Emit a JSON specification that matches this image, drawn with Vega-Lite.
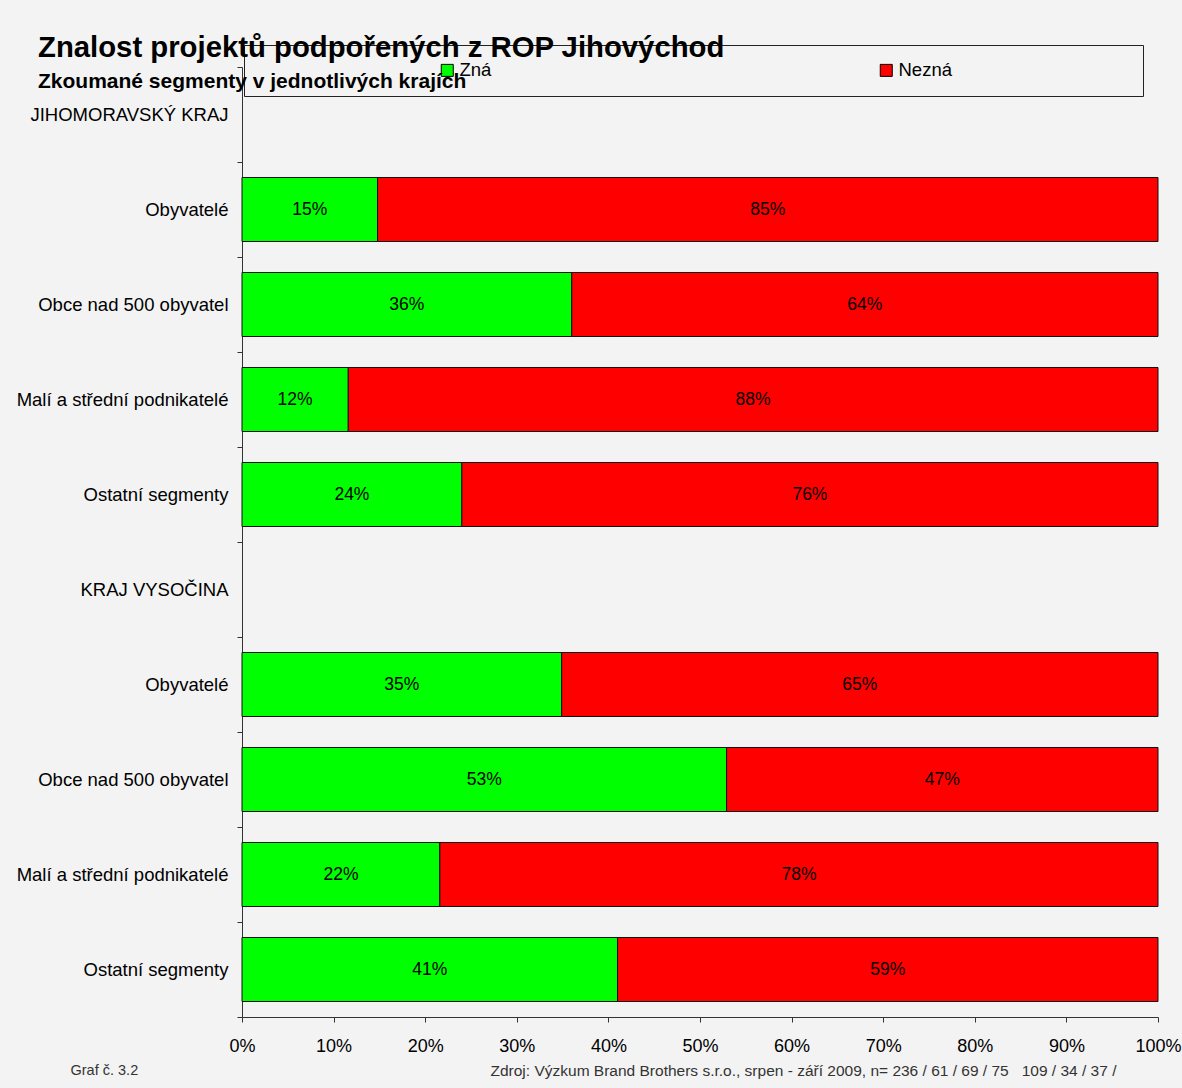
{
  "$schema": "https://vega.github.io/schema/vega-lite/v6.json",
  "width": 916,
  "height": 950,
  "autosize": {"type": "none"},
  "padding": {"left": 242, "top": 67, "right": 24, "bottom": 71},
  "background": "#f3f3f3",
  "view": {"stroke": null},
  "config": {"font": "Liberation Sans"},
  "title": {
    "text": "Znalost projektů podpořených z ROP Jihovýchod",
    "subtitle": "Zkoumané segmenty v jednotlivých krajích",
    "anchor": "start",
    "frame": "group",
    "dx": -204,
    "dy": 51,
    "fontSize": 29.3,
    "fontWeight": "bold",
    "color": "black",
    "subtitleFontSize": 21,
    "subtitleFontWeight": "bold",
    "subtitleColor": "black",
    "subtitlePadding": 7,
    "zindex": 5
  },
  "data": {
    "values": [
      {"row": "2|Obyvatelé", "k": "Zná", "o": 1, "v": 0.148},
      {"row": "2|Obyvatelé", "k": "Nezná", "o": 2, "v": 0.852},
      {"row": "3|Obce nad 500 obyvatel", "k": "Zná", "o": 1, "v": 0.36},
      {"row": "3|Obce nad 500 obyvatel", "k": "Nezná", "o": 2, "v": 0.64},
      {"row": "4|Malí a střední podnikatelé", "k": "Zná", "o": 1, "v": 0.116},
      {"row": "4|Malí a střední podnikatelé", "k": "Nezná", "o": 2, "v": 0.884},
      {"row": "5|Ostatní segmenty", "k": "Zná", "o": 1, "v": 0.24},
      {"row": "5|Ostatní segmenty", "k": "Nezná", "o": 2, "v": 0.76},
      {"row": "7|Obyvatelé", "k": "Zná", "o": 1, "v": 0.349},
      {"row": "7|Obyvatelé", "k": "Nezná", "o": 2, "v": 0.651},
      {"row": "8|Obce nad 500 obyvatel", "k": "Zná", "o": 1, "v": 0.529},
      {"row": "8|Obce nad 500 obyvatel", "k": "Nezná", "o": 2, "v": 0.471},
      {"row": "9|Malí a střední podnikatelé", "k": "Zná", "o": 1, "v": 0.216},
      {"row": "9|Malí a střední podnikatelé", "k": "Nezná", "o": 2, "v": 0.784},
      {"row": "10|Ostatní segmenty", "k": "Zná", "o": 1, "v": 0.41},
      {"row": "10|Ostatní segmenty", "k": "Nezná", "o": 2, "v": 0.59}
    ]
  },
  "transform": [
    {"stack": "v", "groupby": ["row"], "sort": [{"field": "o", "order": "ascending"}], "as": ["v0", "v1"]},
    {"calculate": "(datum.v0 + datum.v1) / 2", "as": "mid"}
  ],
  "encoding": {
    "y": {
      "field": "row",
      "type": "nominal",
      "scale": {
        "domain": ["1|JIHOMORAVSKÝ KRAJ", "2|Obyvatelé", "3|Obce nad 500 obyvatel", "4|Malí a střední podnikatelé", "5|Ostatní segmenty", "6|KRAJ VYSOČINA", "7|Obyvatelé", "8|Obce nad 500 obyvatel", "9|Malí a střední podnikatelé", "10|Ostatní segmenty"],
        "paddingInner": 0,
        "paddingOuter": 0
      },
      "axis": {
        "labelExpr": "split(datum.label, '|')[1]",
        "tickBand": "extent",
        "tickSize": 5,
        "labelPadding": 9,
        "labelFontSize": 18.5,
        "labelColor": "black",
        "labelLimit": 400,
        "domainColor": "#333",
        "tickColor": "#333",
        "title": "Graf č. 3.2",
        "titleAngle": 0,
        "titleX": -172,
        "titleY": 1003,
        "titleAlign": "left",
        "titleBaseline": "middle",
        "titleFontWeight": "normal",
        "titleFontSize": 14.5,
        "titleColor": "#333"
      }
    }
  },
  "layer": [
    {
      "mark": {"type": "bar", "stroke": "#111", "strokeWidth": 1, "height": {"band": 0.674}},
      "encoding": {
        "x": {
          "field": "v0",
          "type": "quantitative",
          "scale": {"domain": [0, 1], "nice": false},
          "axis": {
            "format": ".0%",
            "values": [0, 0.1, 0.2, 0.3, 0.4, 0.5, 0.6, 0.7, 0.8, 0.9, 1],
            "grid": false,
            "tickSize": 5,
            "labelPadding": 15,
            "labelFontSize": 18,
            "labelFlush": false,
            "labelOverlap": false,
            "labelColor": "black",
            "domainColor": "#333",
            "tickColor": "#333",
            "title": ["Zdroj: Výzkum Brand Brothers s.r.o., srpen - září 2009, n= 236 / 61 / 69 / 75\u00a0\u00a0\u00a0109 / 34 / 37 /", "\u200b\u00a0\u00a0\u00a0\u00a0\u00a0\u00a0\u00a0\u00a0\u00a0\u00a0\u00a0\u00a0\u00a0\u00a0\u00a0\u00a0\u00a0\u00a0\u00a0\u00a0\u00a0\u00a069"],
            "titleX": 248,
            "titleY": 53,
            "titleAlign": "left",
            "titleBaseline": "middle",
            "titleFontWeight": "normal",
            "titleFontSize": 15.5,
            "titleColor": "#333",
            "titleLineHeight": 23
          }
        },
        "x2": {"field": "v1"},
        "color": {
          "field": "k",
          "type": "nominal",
          "scale": {"domain": ["Zná", "Nezná"], "range": ["#00ff00", "#ff0000"]},
          "legend": {
            "orient": "none",
            "legendX": 2,
            "legendY": -22,
            "direction": "horizontal",
            "title": "\u200b",
            "titleOrient": "left",
            "titlePadding": 178,
            "padding": 16,
            "strokeColor": "#222",
            "fillColor": "#f3f3f3",
            "columnPadding": 385,
            "labelFontSize": 18.5,
            "labelColor": "black",
            "labelOffset": 3,
            "labelLimit": 600,
            "symbolType": "square",
            "symbolSize": 144,
            "symbolStrokeColor": "black",
            "symbolStrokeWidth": 1,
            "labelExpr": "datum.label == 'Nezná' ? 'Nezná\u00a0\u00a0\u00a0\u00a0\u00a0\u00a0\u00a0\u00a0\u00a0\u00a0\u00a0\u00a0\u00a0\u00a0\u00a0\u00a0\u00a0\u00a0\u00a0\u00a0\u00a0\u00a0\u00a0\u00a0\u00a0\u00a0\u00a0\u00a0\u00a0\u00a0\u00a0\u00a0\u00a0\u00a0\u200b' : datum.label"
          }
        }
      }
    },
    {
      "mark": {"type": "text", "fontSize": 17.5, "color": "black"},
      "encoding": {
        "x": {"field": "mid", "type": "quantitative"},
        "text": {"field": "v", "format": ".0%"}
      }
    }
  ]
}
